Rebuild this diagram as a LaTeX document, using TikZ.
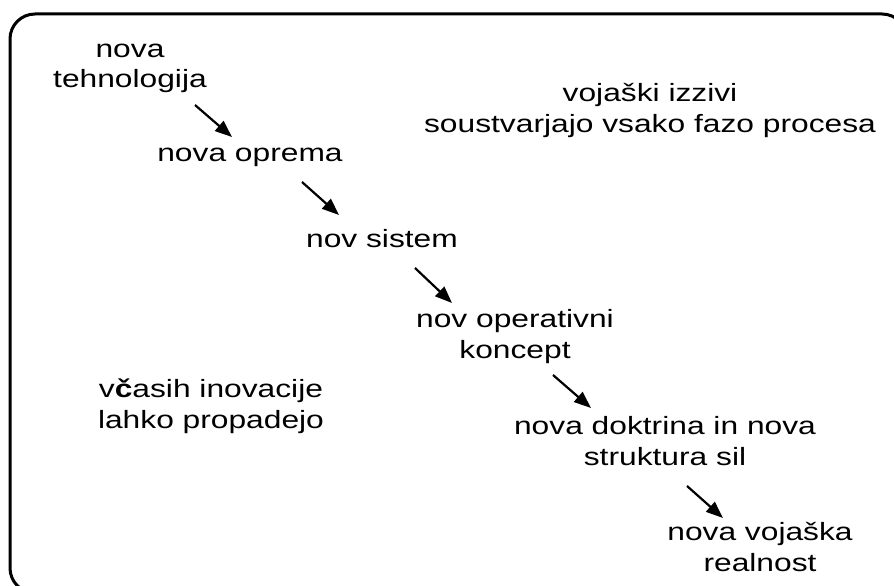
\documentclass[tikz,border=0pt]{standalone}
\usepackage{fontspec}
\setmainfont{Liberation Sans}[FakeStretch=1.27]
\usetikzlibrary{arrows.meta}

\tikzstyle{phase}=[align=center, inner sep=0pt, anchor=base, font=\fontsize{25}{30.5}\selectfont]
\tikzstyle{flow}=[-{Triangle[length=17pt,width=13pt]}, line width=2.2pt]
\tikzstyle{frame}=[line width=3pt, rounded corners=25pt]

\begin{document}
\begin{tikzpicture}[x=1pt, y=-1pt]
	\useasboundingbox (0,0) rectangle (894,586);
	\clip (0,0) rectangle (894,586);

	% outer frame, cut by the page edge
	\draw[frame] (10,14) rectangle (907,593);

	% chain of phases (base = last line)
	\node[phase] (tech) at (130, 88) {nova\\tehnologija};
	\node[phase] (equip) at (250,161) {nova oprema};
	\node[phase] (sys) at (382,247) {nov sistem};
	\node[phase] (concept) at (515,358) {nov operativni\\koncept};
	\node[phase] (doctrine) at (665,465) {nova doktrina in nova\\struktura sil};
	\node[phase] (reality) at (760,571) {nova vojaška\\realnost};

	% side remarks
	\node[phase] (challenge) at (650,132) {vojaški izzivi\\soustvarjajo vsako fazo procesa};
	\node[phase] (fail) at (211,428) {v\textbf{č}asih inovacije\\lahko propadejo};

	% arrows between phases
	\coordinate (a1s) at (195,105); \coordinate (a1e) at (232,137);
	\coordinate (a2s) at (302,182); \coordinate (a2e) at (339,215);
	\coordinate (a3s) at (415,268); \coordinate (a3e) at (452,303);
	\coordinate (a4s) at (553,375); \coordinate (a4e) at (591,408);
	\coordinate (a5s) at (687,486); \coordinate (a5e) at (723,518);
	\foreach \i in {1,...,5}{ \draw[flow] (a\i s) -- (a\i e); }
\end{tikzpicture}
\end{document}
